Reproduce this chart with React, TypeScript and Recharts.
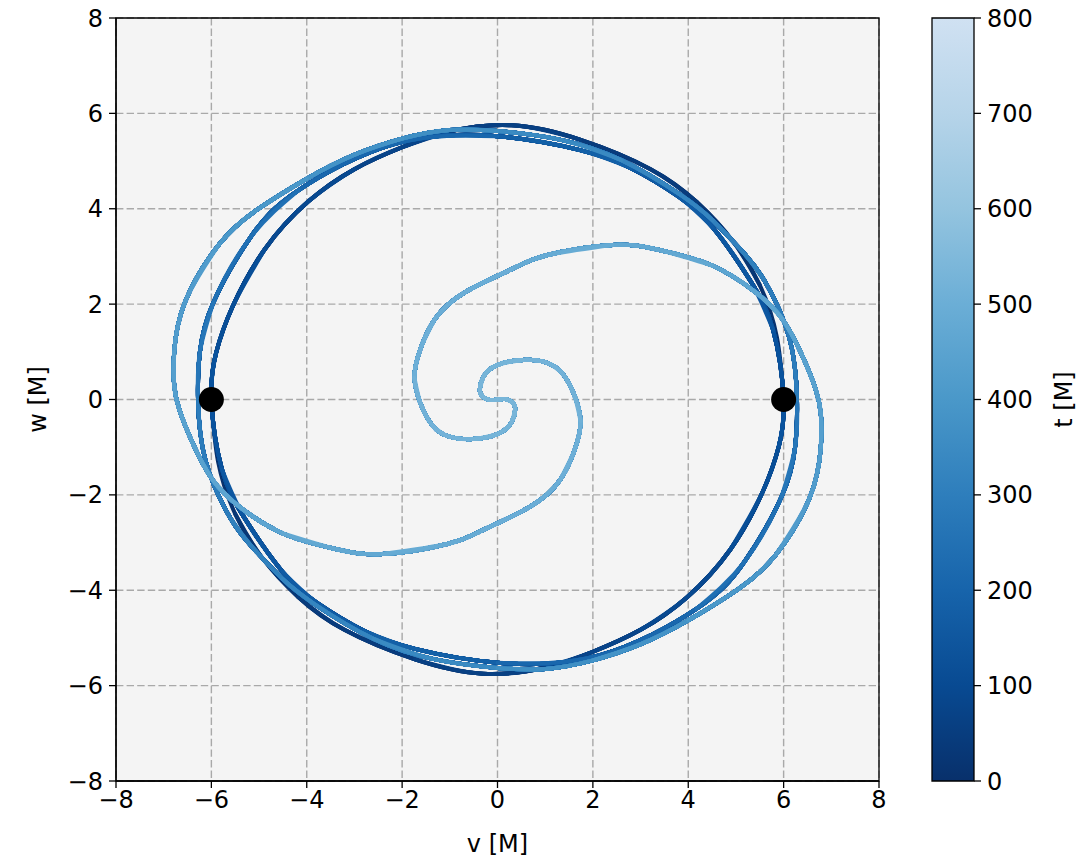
import React from "react";
import {
  LineChart, Line, XAxis, YAxis, CartesianGrid, ReferenceDot, ReferenceArea, Label,
  BarChart, Bar,
} from "recharts";

// puncture 1 (starts at v=+6)
const p1V = [6.00, 5.86, 5.50, 4.95, 4.18, 3.21, 1.73, 0.30, -1.00, -2.00, -3.00, -3.97, -4.88, -5.55, -5.90, -6.00,
  -5.78, -5.29, -4.51, -3.79, -2.80, -1.73, 0.00, 2.15, 4.17, 5.18, 5.96, 6.24, 6.28, 6.12, 5.60, 5.13, 4.51, 3.84, 2.60, 1.31,
  0.00, -1.00, -2.00, -3.03, -4.00, -5.04, -5.84, -6.55, -6.78, -6.78, -6.67, -6.39, -5.97, -5.41, -4.50, -3.46,
  -2.41, -1.01, -0.31, 0.68, 1.31, 1.62, 1.74, 1.60, 1.36, 1.04, 0.53, -0.01, -0.30, -0.37, -0.30, -0.16, 0.00];
const p1W = [0.00, 1.30, 2.40, 3.30, 4.14, 4.83, 5.45, 5.75, 5.62, 5.29, 4.83, 4.15, 3.15, 1.96, 0.98, 0.00,
  -1.46, -2.51, -3.61, -4.26, -4.85, -5.23, -5.52, -5.36, -4.39, -3.40, -2.03, -1.00, 0.00, 1.29, 2.49, 3.11, 3.76, 4.29, 5.02, 5.45,
  5.63, 5.65, 5.47, 5.12, 4.63, 3.98, 3.25, 2.05, 1.00, 0.30, -0.22, -0.92, -1.69, -2.25, -2.81, -3.12,
  -3.24, -3.02, -2.74, -2.25, -1.69, -1.05, -0.45, 0.12, 0.55, 0.77, 0.83, 0.72, 0.47, 0.18, 0.05, -0.01, 0.00];
const p1T = [0, 8, 17, 25, 33, 42, 52, 60, 68, 77, 85, 93, 103, 113, 121, 130,
  140, 148, 158, 165, 172, 180, 195, 210, 232, 245, 260, 270, 280, 290, 303, 310, 318, 328, 336, 345,
  355, 363, 372, 381, 390, 400, 410, 420, 428, 434, 440, 446, 452, 458, 465, 472,
  479, 487, 491, 497, 502, 506, 510, 514, 517, 519, 522, 525, 528, 531, 533, 535, 537];

// puncture 2 (starts at v=-6)
const p2V = [-6.00, -5.86, -5.50, -4.95, -4.18, -3.21, -1.73, -0.30, 1.00, 2.00, 3.00, 3.97, 4.88, 5.55, 5.90, 6.00,
  5.78, 5.29, 4.51, 3.79, 2.80, 1.73, 0.00, -2.15, -4.17, -5.18, -5.96, -6.24, -6.28, -6.12, -5.60, -5.13, -4.51, -3.84, -2.60, -1.31,
  0.00, 1.00, 2.00, 3.03, 4.00, 5.04, 5.84, 6.55, 6.78, 6.78, 6.67, 6.39, 5.97, 5.41, 4.50, 3.46,
  2.41, 1.01, 0.31, -0.68, -1.31, -1.62, -1.74, -1.60, -1.36, -1.04, -0.53, 0.01, 0.30, 0.37, 0.30, 0.16, 0.00];
const p2W = [0.00, -1.30, -2.40, -3.30, -4.14, -4.83, -5.45, -5.75, -5.62, -5.29, -4.83, -4.15, -3.15, -1.96, -0.98, 0.00,
  1.46, 2.51, 3.61, 4.26, 4.85, 5.23, 5.52, 5.36, 4.39, 3.40, 2.03, 1.00, 0.00, -1.29, -2.49, -3.11, -3.76, -4.29, -5.02, -5.45,
  -5.63, -5.65, -5.47, -5.12, -4.63, -3.98, -3.25, -2.05, -1.00, -0.30, 0.22, 0.92, 1.69, 2.25, 2.81, 3.12,
  3.24, 3.02, 2.74, 2.25, 1.69, 1.05, 0.45, -0.12, -0.55, -0.77, -0.83, -0.72, -0.47, -0.18, -0.05, 0.01, 0.00];
const p2T = p1T;

const dotV = [-6, 6];
const dotW = [0, 0];

const axisTicks = [-8, -6, -4, -2, 0, 2, 4, 6, 8];
const cbTicks = [0, 100, 200, 300, 400, 500, 600, 700, 800];

// Blues colormap, used reversed; colour bar top (800) sits at 0.2 of the map
const BLUES = ["#f7fbff", "#deebf7", "#c6dbef", "#9ecae1", "#6baed6", "#4292c6", "#2171b5", "#08519c", "#08306b"];

function blues(x: number) {
  const p = Math.max(0, Math.min(1, x)) * 8;
  const i = Math.min(7, Math.floor(p));
  const f = p - i;
  const a = BLUES[i], b = BLUES[i + 1];
  const ch = (s: string, k: number) => parseInt(s.slice(1 + 2 * k, 3 + 2 * k), 16);
  const out = [0, 1, 2].map(k => Math.round(ch(a, k) + (ch(b, k) - ch(a, k)) * f));
  return "#" + out.map(n => n.toString(16).padStart(2, "0")).join("");
}
const tColor = (t: number) => blues(1 - t / 1000);

const minus = (v: number) => String(v).replace("-", "\u2212");

type Pt = { v: number; w: number; t: number };

// one smooth path per start index, running to the end of the track; drawn in
// time order so each one only shows its own stretch in its own colour
function tails(vs: number[], ws: number[], ts: number[]) {
  const pts: Pt[] = vs.map((v, i) => ({ v, w: ws[i], t: ts[i] }));
  const out: { pts: Pt[]; t: number }[] = [];
  for (let i = 0; i < pts.length - 1; i += 2) {
    const head = pts.slice(i, i + 3);
    out.push({ pts: pts.slice(i), t: head.reduce((s, p) => s + p.t, 0) / head.length });
  }
  return out;
}

const segs = [...tails(p1V, p1W, p1T), ...tails(p2V, p2W, p2T)].sort((a, b) => a.t - b.t);

const font = { fontSize: 24, fill: "#000" };

export default function App() {
  return (
    <div style={{ position: "absolute", left: 0, top: 0, width: 1085, height: 868, background: "#fff", fontFamily: "DejaVu Sans" }}>
      <div style={{ position: "absolute", left: 0, top: 0 }}>
        <LineChart width={900} height={868} margin={{ top: 18, right: 21, bottom: 0, left: 0 }}>
          <CartesianGrid stroke="#a9a9a9" strokeWidth={1.4} strokeDasharray="7.4 3.2" fill="#f4f4f4" fillOpacity={1} />
          <XAxis type="number" dataKey="v" domain={[-8, 8]} ticks={axisTicks} allowDataOverflow
            height={87} tickSize={7} tickMargin={3} tickFormatter={minus} tick={font}
            axisLine={{ stroke: "#000", strokeWidth: 1.3 }} tickLine={{ stroke: "#000", strokeWidth: 1.3 }}>
            <Label value="v [M]" position="insideBottom" offset={16} style={font} />
          </XAxis>
          <YAxis type="number" domain={[-8, 8]} ticks={axisTicks} allowDataOverflow
            width={116} tickSize={7} tickMargin={6} tickFormatter={minus} tick={font}
            axisLine={{ stroke: "#000", strokeWidth: 1.3 }} tickLine={{ stroke: "#000", strokeWidth: 1.3 }}>
            <Label value="w [M]" angle={-90} position="insideLeft" offset={37} style={{ ...font, textAnchor: "middle" }} />
          </YAxis>
          {segs.map((s, k) => (
            <Line key={k} data={s.pts} dataKey="w" type="natural" stroke={tColor(s.t)} strokeWidth={4}
              strokeLinecap="round" dot={false} activeDot={false} isAnimationActive={false} legendType="none" />
          ))}
          {dotV.map((v, i) => (
            <ReferenceDot key={i} x={v} y={dotW[i]} r={12.5} fill="#000" stroke="none" />
          ))}
          <ReferenceArea x1={-8} x2={8} y1={-8} y2={8} fill="none" stroke="#000" strokeWidth={1.3} />
        </LineChart>
      </div>
      <div style={{ position: "absolute", left: 900, top: 0 }}>
        <BarChart width={185} height={868} data={[{ name: "t", value: 800 }]} barCategoryGap={0}
          margin={{ top: 18, right: 0, bottom: 87, left: 32 }}>
          <defs>
            <linearGradient id="cbGrad" x1="0" y1="1" x2="0" y2="0">
              {cbTicks.map(t => (
                <stop key={t} offset={t / 800} stopColor={tColor(t)} />
              ))}
            </linearGradient>
          </defs>
          <XAxis dataKey="name" hide />
          <YAxis orientation="right" domain={[0, 800]} ticks={cbTicks} width={111} tickSize={7} tickMargin={6}
            tick={font} axisLine={false} tickLine={{ stroke: "#000", strokeWidth: 1.3 }}>
            <Label value="t [M]" angle={-90} position="insideRight" offset={22} style={{ ...font, textAnchor: "middle" }} />
          </YAxis>
          <Bar dataKey="value" fill="url(#cbGrad)" stroke="#000" strokeWidth={1.3} isAnimationActive={false} />
        </BarChart>
      </div>
    </div>
  );
}
